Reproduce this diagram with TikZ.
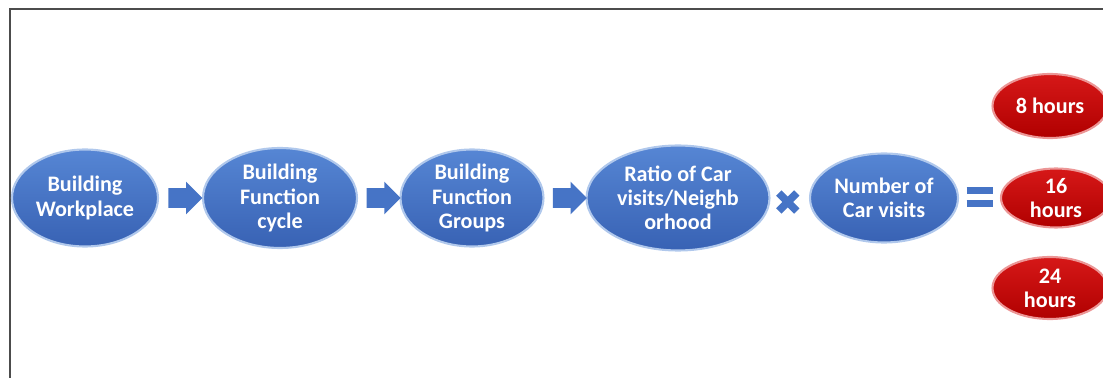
\documentclass[tikz,border=0pt]{standalone}
\usepackage{fontspec}
\setmainfont{Carlito}
\usetikzlibrary{shapes.geometric,shapes.arrows,calc}
\definecolor{bluetop}{RGB}{86,134,212}
\definecolor{bluebot}{RGB}{56,98,180}
\definecolor{bluerim}{RGB}{176,200,236}
\definecolor{redtop}{RGB}{214,24,24}
\definecolor{redbot}{RGB}{176,0,0}
\definecolor{redrim}{RGB}{236,150,150}
\definecolor{signblue}{RGB}{70,116,198}
\begin{document}
\begin{tikzpicture}[x=0.02cm,y=-0.02cm,
    stage/.style={ellipse, inner sep=0pt, align=center, text=white,
      font=\bfseries\fontsize{12.6}{13.8}\selectfont,
      top color=bluetop, bottom color=bluebot, draw=bluerim, line width=1.2pt},
    result/.style={stage, top color=redtop, bottom color=redbot, draw=redrim},
    flow/.style={single arrow, fill=signblue, inner xsep=0pt, inner ysep=0.19cm,
      minimum height=0.68cm, single arrow head extend=0.13cm},
    sign/.style={draw=signblue, line width=0.15cm}]
  % page area and frame
  \clip (0,0) rectangle (1103,378);
  \draw[gray!60!black, line width=0.04cm] (10,378) -- (10,9) -- (1103,9);

  %—————— stages ————————————————————————————————
  \node[stage, minimum width=2.92cm, minimum height=1.94cm] (workplace) at (85,198)
    {Building\\Workplace};
  \node[stage, minimum width=3.08cm, minimum height=2.00cm] (cycle) at (280,198)
    {Building\\Function\\cycle};
  \node[stage, minimum width=2.86cm, minimum height=1.94cm] (groups) at (472,198)
    {Building\\Function\\Groups};
  \node[stage, minimum width=3.66cm, minimum height=2.10cm] (ratio) at (678,198)
    {Ratio of Car\\visits/Neighb\\orhood};
  \node[stage, minimum width=2.96cm, minimum height=1.78cm] (visits) at (884,198)
    {Number of\\Car visits};

  %—————— results ———————————————————————————————
  \node[result, minimum width=2.30cm, minimum height=1.28cm] (eight) at (1050,106)
    {8 hours};
  \node[result, minimum width=2.20cm, minimum height=1.18cm] (sixteen) at (1056,198)
    {16\\hours};
  \node[result, minimum width=2.30cm, minimum height=1.24cm] (twentyfour) at (1050,288)
    {24\\hours};

  %—————— arrows and signs ——————————————————————
  \node[flow] (a1) at ($(workplace.east)!0.5!(cycle.west)$) {};
  \node[flow] (a2) at ($(cycle.east)!0.5!(groups.west)$) {};
  \node[flow] (a3) at ($(groups.east)!0.5!(ratio.west)$) {};
  \coordinate (times) at ($(ratio.east)!0.5!(visits.west)+(-2,4)$);
  \draw[sign] ($(times)+(-9,-9)$) -- ($(times)+(9,9)$);
  \draw[sign] ($(times)+(-9,9)$) -- ($(times)+(9,-9)$);
  \coordinate (equals) at ($(visits.east)!0.5!(sixteen.west)$);
  \draw[sign, line width=0.14cm] ($(equals)+(-13,-7)$) -- ($(equals)+(13,-7)$);
  \draw[sign, line width=0.14cm] ($(equals)+(-13,6)$) -- ($(equals)+(13,6)$);
\end{tikzpicture}
\end{document}
